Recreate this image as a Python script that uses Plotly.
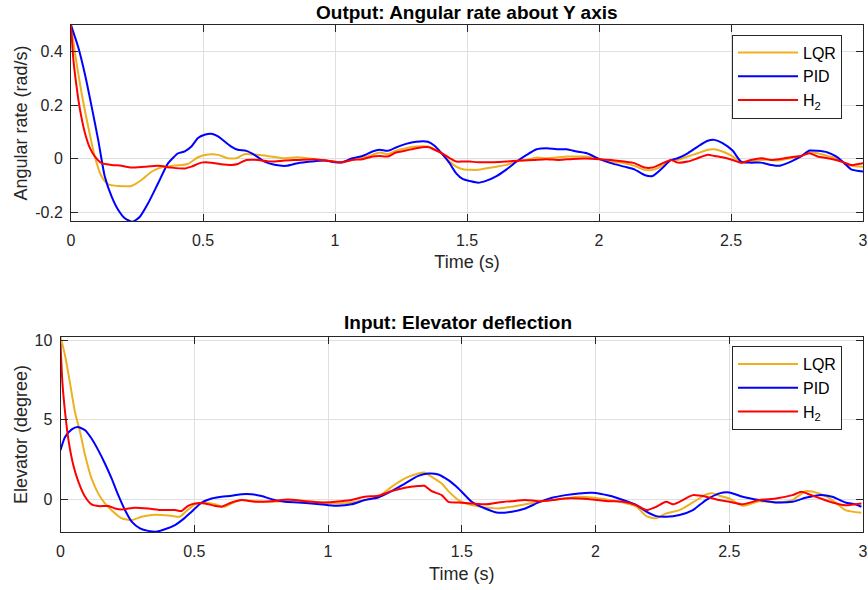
import plotly.graph_objects as go

# ---------------- data ----------------
t_rate_pid = [0, 0.028, 0.053, 0.078, 0.103, 0.128, 0.154, 0.179, 0.204, 0.233, 0.261, 0.292, 0.33, 0.368,
              0.406, 0.431, 0.456, 0.481, 0.506, 0.531, 0.557, 0.582, 0.607, 0.632, 0.664, 0.695, 0.733, 0.771,
              0.815, 0.859, 0.909, 0.96, 1.0, 1.028, 1.066, 1.104, 1.142, 1.168, 1.2, 1.231, 1.269, 1.307,
              1.352, 1.377, 1.409, 1.434, 1.459, 1.485, 1.51, 1.542, 1.574, 1.612, 1.65, 1.688, 1.726, 1.764,
              1.802, 1.84, 1.878, 1.916, 1.954, 2.0, 2.045, 2.096, 2.134, 2.172, 2.203, 2.235, 2.273, 2.298,
              2.336, 2.374, 2.412, 2.437, 2.468, 2.506, 2.538, 2.576, 2.614, 2.652, 2.683, 2.727, 2.765, 2.797,
              2.828, 2.866, 2.898, 2.929, 2.955, 3.0]
rate_pid = [0.5, 0.415, 0.315, 0.196, 0.071, -0.066, -0.141, -0.191, -0.222, -0.235, -0.216, -0.166, -0.091,
            -0.016, 0.021, 0.028, 0.046, 0.078, 0.09, 0.094, 0.084, 0.065, 0.046, 0.034, 0.03, 0.015, -0.01,
            -0.022, -0.026, -0.016, -0.01, -0.006, -0.0125, -0.0125, 0.0025, 0.011, 0.0275, 0.034, 0.03, 0.0425,
            0.056, 0.064, 0.064, 0.049, 0.015, -0.016, -0.054, -0.076, -0.0825, -0.089, -0.081, -0.064, -0.039,
            -0.01, 0.015, 0.036, 0.04, 0.036, 0.036, 0.0275, 0.021, 0, -0.016, -0.029, -0.039, -0.06, -0.064,
            -0.039, -0.004, 0.0025, 0.021, 0.046, 0.0675, 0.071, 0.059, 0.031, -0.01, -0.014, -0.014, -0.0225,
            -0.026, -0.01, 0.009, 0.031, 0.03, 0.024, 0.009, -0.016, -0.039, -0.0475]

t_rate_lqr = [0, 0.015, 0.04, 0.065, 0.09, 0.116, 0.141, 0.179, 0.229, 0.267, 0.305, 0.343, 0.393, 0.443,
              0.481, 0.519, 0.557, 0.594, 0.626, 0.657, 0.708, 0.758, 0.809, 0.859, 0.922, 0.995, 1.028, 1.066,
              1.104, 1.142, 1.168, 1.2, 1.231, 1.269, 1.307, 1.352, 1.377, 1.409, 1.434, 1.459, 1.485, 1.51,
              1.542, 1.574, 1.612, 1.65, 1.688, 1.726, 1.764, 1.802, 1.84, 1.878, 1.916, 1.954, 2.0, 2.045,
              2.096, 2.134, 2.172, 2.203, 2.235, 2.273, 2.298, 2.336, 2.374, 2.412, 2.437, 2.468, 2.506, 2.538,
              2.576, 2.614, 2.652, 2.683, 2.727, 2.765, 2.797, 2.828, 2.866, 2.898, 2.929, 2.955, 3.0]
rate_lqr = [0.5, 0.396, 0.246, 0.121, 0.009, -0.066, -0.095, -0.101, -0.101, -0.079, -0.048, -0.031, -0.025,
            -0.019, 0.006, 0.016, 0.015, 0.0025, 0.0025, 0.0175, 0.015, 0.009, 0.0025, 0.006, -0.001, -0.01,
            -0.0125, -0.001, 0.005, 0.015, 0.024, 0.0175, 0.031, 0.04, 0.046, 0.046, 0.036, 0.015, -0.01,
            -0.029, -0.039, -0.041, -0.041, -0.035, -0.029, -0.0225, -0.01, -0.004, 0.005, 0.0025, 0.005,
            0.009, 0.009, 0.009, 0, -0.01, -0.016, -0.026, -0.041, -0.041, -0.029, -0.004, -0.004, 0.009,
            0.021, 0.034, 0.036, 0.0275, 0.009, -0.014, -0.01, -0.004, -0.004, -0.006, 0.0025, 0.011, 0.024,
            0.021, 0.011, 0.0025, -0.014, -0.026, -0.029]

t_rate_h2 = [0, 0.009, 0.021, 0.034, 0.053, 0.072, 0.09, 0.116, 0.154, 0.191, 0.229, 0.28, 0.33, 0.38, 0.431,
             0.456, 0.494, 0.531, 0.569, 0.607, 0.632, 0.664, 0.708, 0.758, 0.809, 0.859, 0.922, 0.995, 1.028,
             1.066, 1.104, 1.142, 1.168, 1.2, 1.231, 1.269, 1.307, 1.352, 1.377, 1.409, 1.434, 1.459, 1.485,
             1.51, 1.542, 1.6, 1.65, 1.7, 1.75, 1.8, 1.85, 1.9, 1.95, 2.0, 2.045, 2.096, 2.134, 2.172, 2.203,
             2.235, 2.273, 2.298, 2.336, 2.374, 2.412, 2.437, 2.468, 2.506, 2.538, 2.576, 2.614, 2.652, 2.683,
             2.727, 2.765, 2.797, 2.828, 2.866, 2.898, 2.929, 2.955, 3.0]
rate_h2 = [0.5, 0.371, 0.271, 0.184, 0.096, 0.04, 0.009, -0.016, -0.0225, -0.026, -0.0325, -0.029, -0.026,
           -0.0325, -0.036, -0.029, -0.014, -0.014, -0.02, -0.0225, -0.019, -0.004, -0.004, -0.01, -0.006,
           -0.004, -0.001, -0.01, -0.0125, -0.004, -0.001, 0.009, 0.011, 0.009, 0.024, 0.031, 0.04, 0.044,
           0.034, 0.019, 0.0025, -0.01, -0.01, -0.01, -0.0125, -0.0125, -0.01, -0.006, -0.004, -0.001, -0.004,
           0, 0.001, -0.001, -0.004, -0.01, -0.016, -0.0325, -0.0325, -0.019, -0.004, -0.014, -0.01, 0.0025,
           0.015, 0.011, 0.006, -0.004, -0.014, -0.004, 0.0025, -0.004, -0.001, 0.006, 0.011, 0.021, 0.009,
           0.0025, -0.004, -0.014, -0.0225, -0.016]

t_elev_lqr = [0, 0.017, 0.035, 0.054, 0.073, 0.092, 0.116, 0.141, 0.166, 0.197, 0.229, 0.266, 0.303, 0.341,
              0.378, 0.415, 0.446, 0.471, 0.503, 0.54, 0.577, 0.615, 0.64, 0.677, 0.727, 0.777, 0.826, 0.876,
              0.926, 0.988, 1.0375, 1.0875, 1.1375, 1.1875, 1.2375, 1.2875, 1.3375, 1.36, 1.3875, 1.425, 1.45,
              1.4875, 1.5375, 1.5875, 1.6375, 1.6875, 1.7375, 1.7875, 1.8375, 1.8875, 1.9375, 1.9875, 2.053,
              2.103, 2.153, 2.19, 2.227, 2.264, 2.314, 2.364, 2.413, 2.44, 2.463, 2.5, 2.55, 2.612, 2.674,
              2.736, 2.785, 2.835, 2.885, 2.934, 2.994]
elev_lqr = [10.2, 9.04, 7.36, 5.48, 4.23, 2.76, 1.3, 0.36, -0.27, -0.79, -1.21, -1.32, -1.11, -1.0, -1.0,
            -1.05, -1.11, -0.75, -0.33, -0.21, -0.33, -0.48, -0.27, -0.06, -0.13, -0.17, -0.13, -0.06, -0.13,
            -0.23, -0.27, -0.21, -0.06, 0.15, 0.77, 1.3, 1.61, 1.67, 1.4, 0.98, 0.5, -0.06, -0.38, -0.52,
            -0.59, -0.48, -0.33, -0.17, -0.06, 0.04, 0.15, 0.1, -0.06, -0.21, -0.48, -1.07, -1.21, -0.9, -0.69,
            -0.21, 0.29, 0.36, 0.21, 0.04, -0.42, -0.13, -0.21, -0.06, 0.5, 0.36, -0.06, -0.69, -0.86]

t_elev_pid = [0, 0.017, 0.042, 0.064, 0.092, 0.116, 0.141, 0.166, 0.191, 0.216, 0.241, 0.266, 0.297, 0.328,
              0.359, 0.39, 0.428, 0.459, 0.49, 0.527, 0.565, 0.602, 0.64, 0.677, 0.714, 0.752, 0.789, 0.838,
              0.888, 0.938, 1.0, 1.0375, 1.0875, 1.1375, 1.1875, 1.2375, 1.2875, 1.3375, 1.375, 1.4125, 1.45,
              1.4875, 1.5375, 1.5875, 1.6375, 1.6875, 1.7375, 1.7875, 1.8375, 1.8875, 1.9375, 1.9875, 2.053,
              2.103, 2.153, 2.19, 2.227, 2.264, 2.314, 2.364, 2.413, 2.463, 2.5, 2.55, 2.612, 2.674, 2.736,
              2.785, 2.835, 2.885, 2.934, 2.971, 2.994]
elev_pid = [3.08, 3.91, 4.39, 4.54, 4.33, 3.81, 3.08, 2.24, 1.3, 0.25, -0.69, -1.42, -1.84, -2.0, -2.05, -1.9,
            -1.63, -1.26, -0.79, -0.23, 0.04, 0.15, 0.21, 0.31, 0.31, 0.19, 0, -0.17, -0.21, -0.27, -0.38,
            -0.42, -0.33, -0.06, 0.1, 0.5, 0.98, 1.46, 1.61, 1.55, 1.19, 0.67, -0.17, -0.59, -0.86, -0.79,
            -0.59, -0.21, 0.08, 0.25, 0.36, 0.4, 0.21, -0.06, -0.38, -0.79, -1.07, -1.11, -1.0, -0.69, -0.06,
            0.36, 0.42, 0.15, -0.06, -0.21, -0.17, 0.08, 0.25, 0.15, -0.21, -0.33, -0.48]

t_elev_h2 = [0, 0.007, 0.017, 0.029, 0.048, 0.067, 0.092, 0.116, 0.141, 0.179, 0.204, 0.229, 0.278, 0.328,
             0.378, 0.428, 0.452, 0.477, 0.503, 0.54, 0.577, 0.602, 0.64, 0.677, 0.727, 0.789, 0.851, 0.913,
             0.988, 1.05, 1.0875, 1.1375, 1.1875, 1.2375, 1.2875, 1.3375, 1.36, 1.3875, 1.425, 1.45, 1.4875,
             1.5375, 1.5875, 1.6375, 1.6875, 1.7375, 1.7875, 1.8375, 1.8875, 1.9375, 1.9875, 2.053, 2.103,
             2.153, 2.19, 2.227, 2.264, 2.29, 2.314, 2.364, 2.413, 2.463, 2.5, 2.55, 2.612, 2.674, 2.736, 2.77,
             2.8, 2.835, 2.885, 2.934, 2.994]
elev_h2 = [9.77, 7.36, 5.48, 3.81, 2.13, 1.09, 0.15, -0.33, -0.44, -0.44, -0.59, -0.65, -0.54, -0.59, -0.69,
           -0.69, -0.75, -0.42, -0.27, -0.27, -0.42, -0.48, -0.21, -0.06, -0.17, -0.13, -0.02, -0.13, -0.21,
           -0.13, -0.06, 0.15, 0.21, 0.5, 0.71, 0.82, 0.84, 0.5, 0.25, -0.17, -0.21, -0.27, -0.33, -0.21,
           -0.13, -0.06, -0.13, -0.06, 0.04, 0.04, -0.02, -0.13, -0.17, -0.38, -0.69, -0.48, -0.17, -0.33,
           -0.17, 0.25, 0.15, -0.06, -0.17, -0.33, -0.06, 0.04, 0.25, 0.46, 0.29, 0.08, -0.21, -0.38, -0.27]

series_names = ["LQR", "PID", "H<sub>2</sub>"]
x_ticks = [0, 0.5, 1, 1.5, 2, 2.5, 3]
x_tick_labels = ["0", "0.5", "1", "1.5", "2", "2.5", "3"]
rate_ticks = [-0.2, 0, 0.2, 0.4]
rate_tick_labels = ["-0.2", "0", "0.2", "0.4"]
elev_ticks = [0, 5, 10]
elev_tick_labels = ["0", "5", "10"]

# ---------------- styling ----------------
W, H = 868, 590
ML, MR, MT, MB = 60, 5, 25, 58
PW, PH = W - ML - MR, H - MT - MB


def px_x(x):
    return (x - ML) / PW


def px_y(y):
    return 1 - (y - MT) / PH


colors = ["#EDB120", "#0000FF", "#FF0000"]
FONT = "Liberation Sans, Arial, Helvetica, sans-serif"
AX = "#262626"
GRID = "#DFDFDF"

fig = go.Figure()
top = [(t_rate_lqr, rate_lqr), (t_rate_pid, rate_pid), (t_rate_h2, rate_h2)]
bot = [(t_elev_lqr, elev_lqr), (t_elev_pid, elev_pid), (t_elev_h2, elev_h2)]
for i, (tt, yy) in enumerate(top):
    fig.add_trace(go.Scatter(x=tt, y=yy, mode="lines", name=series_names[i],
                             line=dict(color=colors[i], width=2, shape="spline", smoothing=0.6),
                             xaxis="x", yaxis="y", legend="legend"))
for i, (tt, yy) in enumerate(bot):
    fig.add_trace(go.Scatter(x=tt, y=yy, mode="lines", name=series_names[i],
                             line=dict(color=colors[i], width=2, shape="spline", smoothing=0.6),
                             xaxis="x2", yaxis="y2", legend="legend2"))

TICKSIZE = 16
LABSIZE = 18
common = dict(showline=True, linecolor=AX, linewidth=1, mirror="ticks", ticks="inside", ticklen=7,
              tickcolor=AX, tickwidth=1, showgrid=True, gridcolor=GRID, gridwidth=1, zeroline=False,
              tickfont=dict(family=FONT, size=TICKSIZE, color=AX), automargin=False,
              ticklabeloverflow="allow")

fig.update_layout(
    width=W, height=H,
    margin=dict(l=ML, r=MR, t=MT, b=MB),
    paper_bgcolor="white", plot_bgcolor="white",
    font=dict(family=FONT, color=AX),
    xaxis=dict(domain=[px_x(71), 1], range=[0, 3], anchor="y", tickvals=x_ticks, ticktext=x_tick_labels,
               ticklabelstandoff=5,
               title=dict(text="Time (s)", font=dict(family=FONT, size=LABSIZE, color=AX), standoff=7), **common),
    yaxis=dict(domain=[px_y(221), 1], range=[-0.232, 0.5], anchor="x", tickvals=rate_ticks,
               ticktext=rate_tick_labels, ticklabelstandoff=4,
               title=dict(text="Angular rate (rad/s)", font=dict(family=FONT, size=LABSIZE, color=AX), standoff=2),
               **common),
    xaxis2=dict(domain=[px_x(60.5), 1], range=[0, 3], anchor="y2", tickvals=x_ticks, ticktext=x_tick_labels,
                ticklabelstandoff=5,
                title=dict(text="Time (s)", font=dict(family=FONT, size=LABSIZE, color=AX), standoff=8), **common),
    yaxis2=dict(domain=[0, px_y(337)], range=[-2.07, 10.2], anchor="x2", tickvals=elev_ticks,
                ticktext=elev_tick_labels, ticklabelstandoff=4,
                title=dict(text="Elevator (degree)", font=dict(family=FONT, size=LABSIZE, color=AX), standoff=2),
                **common),
    legend=dict(x=px_x(732), y=px_y(34.5), xanchor="left", yanchor="top", bgcolor="white",
                bordercolor=AX, borderwidth=1, font=dict(family=FONT, size=16, color="black"),
                itemwidth=60, tracegroupgap=0),
    legend2=dict(x=px_x(732), y=px_y(346), xanchor="left", yanchor="top", bgcolor="white",
                 bordercolor=AX, borderwidth=1, font=dict(family=FONT, size=16, color="black"),
                 itemwidth=60, tracegroupgap=0),
    annotations=[
        dict(text="<b>Output: Angular rate about Y axis</b>", xref="paper", yref="paper",
             x=px_x(467), y=px_y(12), xanchor="center", yanchor="middle", showarrow=False,
             font=dict(family=FONT, size=19, color="black")),
        dict(text="<b>Input: Elevator deflection</b>", xref="paper", yref="paper",
             x=px_x(458), y=px_y(322), xanchor="center", yanchor="middle", showarrow=False,
             font=dict(family=FONT, size=19, color="black")),
    ],
)

fig.write_html("out.html", config={"displayModeBar": False},
               post_script="document.body.style.margin='0';document.body.style.padding='0';")
